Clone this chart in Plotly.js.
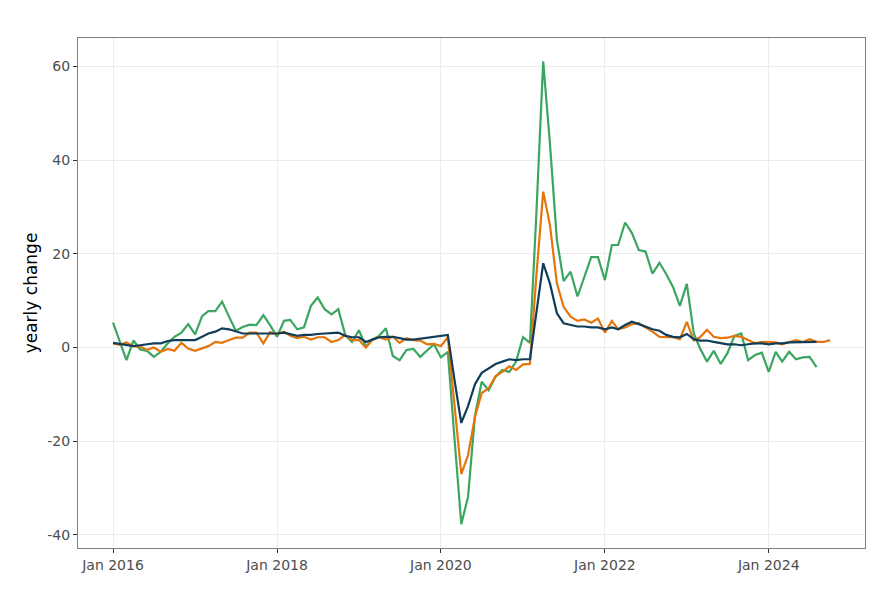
<!DOCTYPE html>
<html>
<head>
<meta charset="utf-8">
<script src="https://cdn.plot.ly/plotly-3.0.1.min.js"></script>
<style>html,body{margin:0;padding:0;background:#fff;} #chart{width:890px;height:600px;}</style>
</head>
<body>
<div id="chart"></div>
<script>
// Monthly series starting Jan 2016
const startYear = 2016;
const seriesNavy = [1.0,0.75,0.5,0.3,0.5,0.7,0.9,0.9,1.4,1.6,1.6,1.6,1.6,2.3,3.0,3.4,4.1,3.9,3.4,3.0,3.0,3.0,3.0,3.0,
  3.0,3.2,2.9,2.5,2.7,2.7,2.9,3.0,3.0,3.2,2.5,2.2,2.2,1.2,1.7,2.2,2.3,2.3,2.0,1.7,1.7,1.9,2.0,2.2,
  2.4,2.7,-6.7,-16.1,-12.5,-7.8,-5.4,-4.5,-3.5,-3.0,-2.5,-2.7,-2.5,-2.5,7.7,18.0,13.7,7.3,5.2,4.9,4.5,4.5,4.3,4.3,
  3.9,4.3,3.9,4.8,5.5,5.0,4.5,3.9,3.6,2.7,2.3,2.2,2.9,1.8,1.5,1.5,1.2,0.9,0.7,0.7,0.5,0.7,0.9,0.9,
  0.7,0.9,0.9,1.1,1.1,1.2,1.2,1.2];
const seriesOrange = [0.9,0.6,1.1,0.3,0.2,-0.5,0.0,-0.9,-0.3,-0.7,1.0,-0.2,-0.7,-0.2,0.3,1.2,1.0,1.6,2.1,2.1,3.2,3.2,0.9,3.3,
  2.9,3.4,2.5,2.0,2.3,1.7,2.2,2.2,1.2,1.6,2.7,1.6,1.6,0.0,1.6,2.2,1.7,2.3,1.0,2.0,1.6,1.5,0.7,0.8,
  0.3,2.2,-12.0,-27.0,-23.0,-14.8,-9.7,-8.7,-6.1,-5.2,-4.0,-4.8,-3.6,-3.5,15.0,33.3,26.2,13.7,8.7,6.6,5.7,6.0,5.3,6.2,
  3.2,5.7,3.9,4.3,5.0,5.2,4.3,3.4,2.3,2.3,2.2,1.8,5.5,1.5,2.2,3.8,2.3,2.0,2.1,2.5,2.3,1.6,0.9,1.2,
  1.1,1.1,0.7,1.2,1.6,1.2,1.8,1.2,1.2,1.6];
const seriesGreen = [5.3,1.3,-2.7,1.5,-0.4,-0.7,-2.0,-0.9,0.9,2.3,3.2,5.0,2.8,6.7,7.8,7.8,9.8,6.6,3.6,4.4,4.9,4.8,6.9,4.8,
  2.3,5.7,5.9,3.9,4.3,8.9,10.7,8.2,7.1,8.2,2.7,1.2,3.7,0.2,1.7,2.5,4.1,-1.8,-2.7,-0.5,-0.3,-2.0,-0.7,0.7,
  -2.1,-0.9,-19.0,-37.7,-31.9,-14.5,-7.3,-9.1,-6.2,-4.8,-5.2,-3.0,2.2,1.0,28.0,61.1,43.6,23.0,14.2,16.2,10.9,15.1,19.3,19.3,
  14.4,21.9,21.9,26.7,24.5,20.8,20.5,15.8,18.1,15.7,12.9,8.9,13.6,3.0,-0.2,-3.0,-0.7,-3.5,-1.2,2.5,3.0,-2.7,-1.6,-1.1,
  -5.2,-0.9,-3.0,-0.9,-2.5,-2.1,-2.0,-4.2];
const yTickVals = [-40,-20,0,20,40,60];
const yTickText = ['-40','-20','0','20','40','60'];
const xTickVals = ['2016-01-01','2018-01-01','2020-01-01','2022-01-01','2024-01-01'];
const xTickText = ['Jan 2016','Jan 2018','Jan 2020','Jan 2022','Jan 2024'];

function monthDates(n){
  const out=[];
  for(let i=0;i<n;i++){
    const y = startYear + Math.floor(i/12);
    const m = (i%12)+1;
    out.push(y+'-'+String(m).padStart(2,'0')+'-01');
  }
  return out;
}

const traces = [
  {x: monthDates(seriesGreen.length), y: seriesGreen, color:'#3aa660'},
  {x: monthDates(seriesOrange.length), y: seriesOrange, color:'#e5750b'},
  {x: monthDates(seriesNavy.length), y: seriesNavy, color:'#103e58'}
].map(t => ({x:t.x, y:t.y, type:'scatter', mode:'lines', line:{color:t.color, width:2.2}, hoverinfo:'skip', showlegend:false}));

const layout = {
  width: 890, height: 600,
  margin: {l:78, r:25, t:38, b:52},
  paper_bgcolor:'#ffffff', plot_bgcolor:'#ffffff',
  font: {family:'DejaVu Sans, sans-serif', size:14, color:'#4d4d4d'},
  showlegend:false,
  xaxis: {
    type:'date', range:['2015-07-29','2025-03-05'],
    tickvals: xTickVals, ticktext: xTickText,
    showgrid:true, gridcolor:'#ebebeb', gridwidth:1,
    zeroline:false, showline:true, linecolor:'#7f7f7f', linewidth:1, mirror:true,
    ticks:'outside', ticklen:4, tickcolor:'#333333', tickwidth:1,
    tickfont:{family:'DejaVu Sans, sans-serif', size:14, color:'#4d4d4d'}
  },
  yaxis: {
    range:[-42.8, 66.1],
    tickvals: yTickVals, ticktext: yTickText,
    showgrid:true, gridcolor:'#ebebeb', gridwidth:1,
    zeroline:false, showline:true, linecolor:'#7f7f7f', linewidth:1, mirror:true,
    ticks:'outside', ticklen:4, tickcolor:'#333333', tickwidth:1,
    tickfont:{family:'DejaVu Sans, sans-serif', size:14, color:'#4d4d4d'},
    title:{text:'yearly change', font:{family:'DejaVu Sans, sans-serif', size:17, color:'#000000'}, standoff:5}
  }
};

Plotly.newPlot('chart', traces, layout, {displayModeBar:false, staticPlot:true});
</script>
</body>
</html>
